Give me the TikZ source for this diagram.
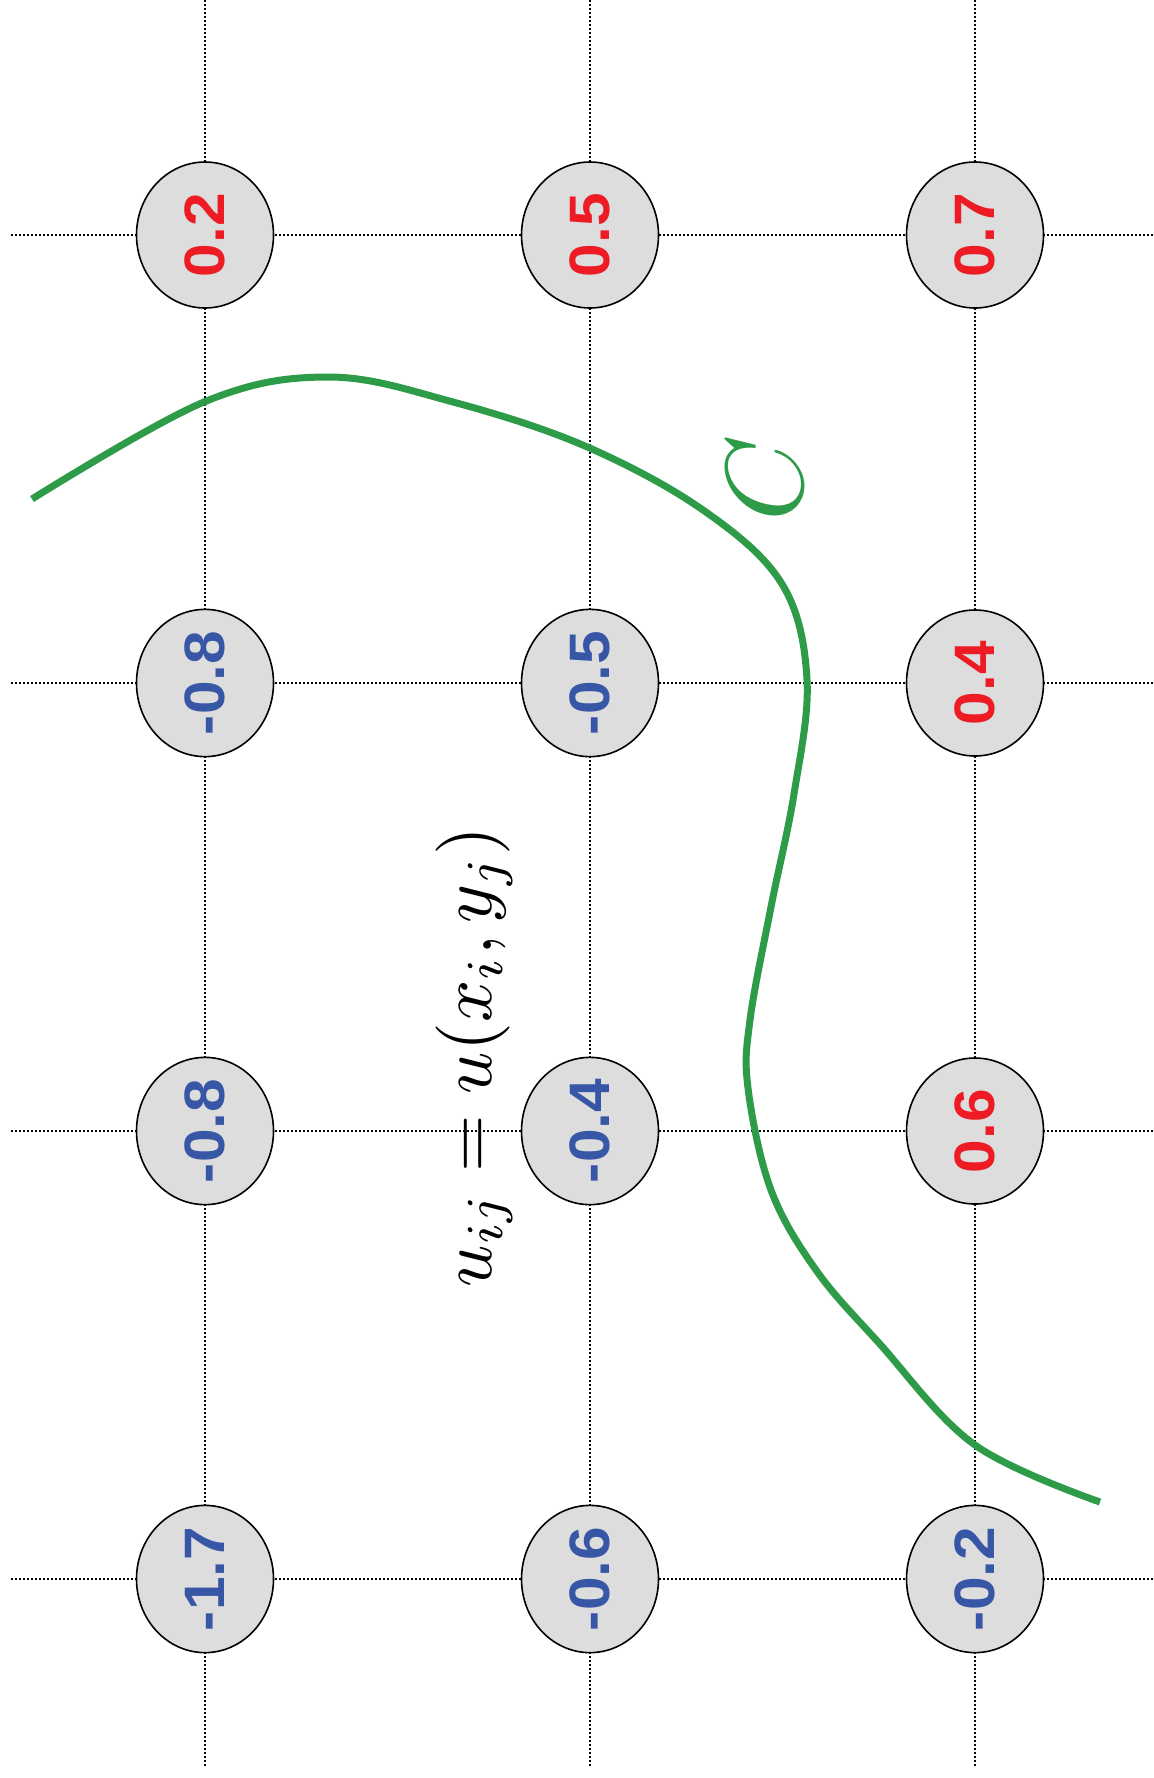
\documentclass[tikz,border=0pt]{standalone}
\usepackage{fontspec}
\newfontfamily\valfont{Liberation Sans}[FakeStretch=1.06]
\usetikzlibrary{positioning, shapes.geometric, backgrounds}
\definecolor{valred}{RGB}{237,28,36}
\definecolor{valblue}{RGB}{55,86,166}
\definecolor{cellgray}{RGB}{221,221,221}
\definecolor{curvegreen}{RGB}{46,155,72}

\begin{document}
\begin{tikzpicture}[x=1pt, y=-1pt, node distance={448pt and 385pt}, on grid,
        main/.style = {draw, ellipse, fill=cellgray, line width=1.6pt, inner sep=0pt,
            minimum width=146pt, minimum height=137pt, rotate=90,
            font=\valfont\bfseries\fontsize{57}{60}\selectfont},
        posval/.style = {main, text=valred},
        negval/.style = {main, text=valblue},
        gridline/.style = {line width=1.5pt, dash pattern=on 1.5pt off 2.5pt}]
            \useasboundingbox (0,0) rectangle (1154,1778);

            \node[posval] (a1) at (205,235) {0.2};
            \node[posval] (a2) [right=of a1] {0.5};
            \node[posval] (a3) [right=of a2] {0.7};
            \node[negval] (b1) [below=of a1] {-0.8};
            \node[negval] (b2) [right=of b1] {-0.5};
            \node[posval] (b3) [right=of b2] {0.4};
            \node[negval] (c1) [below=of b1] {-0.8};
            \node[negval] (c2) [right=of c1] {-0.4};
            \node[posval] (c3) [right=of c2] {0.6};
            \node[negval] (d1) [below=of c1] {-1.7};
            \node[negval] (d2) [right=of d1] {-0.6};
            \node[negval] (d3) [right=of d2] {-0.2};

            \coordinate (top) at (0,0);
            \coordinate (bottom) at (0,1767);
            \coordinate (left) at (11,0);
            \coordinate (right) at (1154,0);

            \begin{scope}[on background layer]
                \foreach \c in {a1,a2,a3}
                    \draw[gridline] (\c |- top) -- (\c |- bottom);
                \foreach \r in {a1,b1,c1,d1}
                    \draw[gridline] (\r -| left) -- (\r -| right);
            \end{scope}

            \node[rotate=90, scale=7.4] (uij) at (474,1057) {$u_{ij} = u(x_i, y_j)$};
            \node[rotate=90, scale=11, text=curvegreen] (clabel) at (765,478) {$C$};

            % level curve
            \draw[curvegreen, line width=7pt] plot[smooth, tension=0.6] coordinates {
                (32,499) (204,402) (329,377) (453,402) (585,446) (703,510) (782,584)
                (807,680) (794,794) (771,907) (750,1020) (748,1088) (771,1190)
                (816,1270) (879,1343) (975,1445) (1100,1502)};
        \end{tikzpicture}
\end{document}
